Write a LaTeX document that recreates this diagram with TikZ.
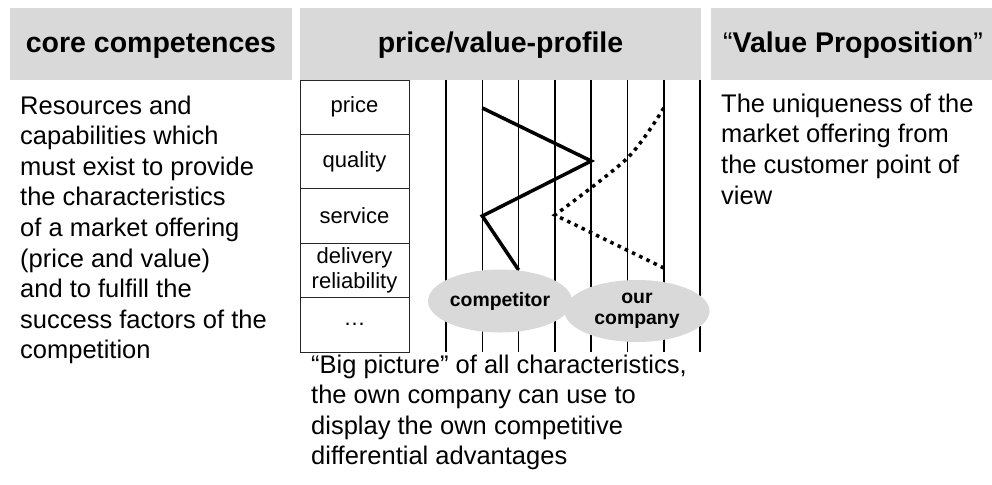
\documentclass[tikz,border=0pt]{standalone}
\usepackage{fontspec}
\setmainfont{Liberation Sans}
\usetikzlibrary{shapes}

\begin{document}
\begin{tikzpicture}[x=1pt,y=-1pt]

	\tikzstyle{hbox}=[fill=gray!30,draw=none,inner sep=0pt,minimum height=72]
	\tikzstyle{htext}=[anchor=base,inner sep=0pt,font=\fontsize{28.5}{34}\selectfont\bfseries]
	\tikzstyle{body}=[anchor=base west,inner sep=0pt,align=left,font=\fontsize{25.5}{30.6}\selectfont]
	\tikzstyle{row}=[draw=black!85,line width=0.8pt,minimum width=109,minimum height=54.4,inner sep=0pt,align=center,font=\fontsize{22}{25.3}\selectfont]
	\tikzstyle{party}=[ellipse,fill=gray!30,inner sep=0pt,align=center,font=\fontsize{19.4}{21}\selectfont\bfseries]
	\tikzstyle{compline}=[line width=3.5pt]
	\tikzstyle{ourline}=[line width=3.5pt,dash pattern=on 3.5pt off 4.5pt]

	\useasboundingbox (0,0) rectangle (992,484);

	% headers
	\node[hbox,minimum width=282] (corebox) at (151,44) {};
	\node[hbox,minimum width=401] (profilebox) at (500.5,44) {};
	\node[hbox,minimum width=281] (propbox) at (851.5,44) {};

	\node[htext] (coretitle) at (151,53) {core competences};
	\node[htext] (profiletitle) at (500.5,53) {price/value-profile};
	\node[htext] (proptitle) at (853,53) {\mdseries``\bfseries Value Proposition\mdseries''};

	% left and right texts (anchor = baseline of the last line)
	\node[body] (coretext) at (20,358.8) {Resources and\\capabilities which\\must exist to provide\\the characteristics\\of a market offering\\(price and value)\\and to fulfill the\\success factors of the\\competition};
	\node[body] (proptext) at (721,204) {The uniqueness of the\\market offering from\\the customer point of\\view};

	% characteristics
	\node[row] (price) at (354.5,107.2) {price};
	\node[row] (quality) at (354.5,161.6) {quality};
	\node[row] (service) at (354.5,216) {service};
	\node[row] (delivery) at (354.5,270.4) {delivery\\reliability};
	\node[row] (more) at (354.5,324.8) {\dots};

	% scale
	\foreach \i in {0,...,7}
		\draw[line width=1.5pt] (446+36.3*\i,80) -- (446+36.3*\i,352);

	\coordinate (c-price) at (482.3,108);
	\coordinate (c-quality) at (591.2,161);
	\coordinate (c-service) at (482.3,216);
	\coordinate (c-delivery) at (518.6,270);

	\coordinate (o-price) at (663.8,108);
	\coordinate (o-quality) at (627.5,158);
	\coordinate (o-service) at (554.9,215);
	\coordinate (o-delivery) at (663.8,268);

	\draw[compline] (c-price) -- (c-quality) -- (c-service) -- (c-delivery);
	\draw[ourline] plot[smooth] coordinates {(o-price) (o-quality) (o-service)} -- (o-delivery);

	\node[party,minimum width=144,minimum height=63] (competitor) at (500,301) {competitor};
	\node[party,minimum width=145,minimum height=62] (ours) at (637,311) {our\\company};

	\node[body] (bigpicture) at (311,464.8) {``Big picture'' of all characteristics,\\the own company can use to\\display the own competitive\\differential advantages};

\end{tikzpicture}
\end{document}
